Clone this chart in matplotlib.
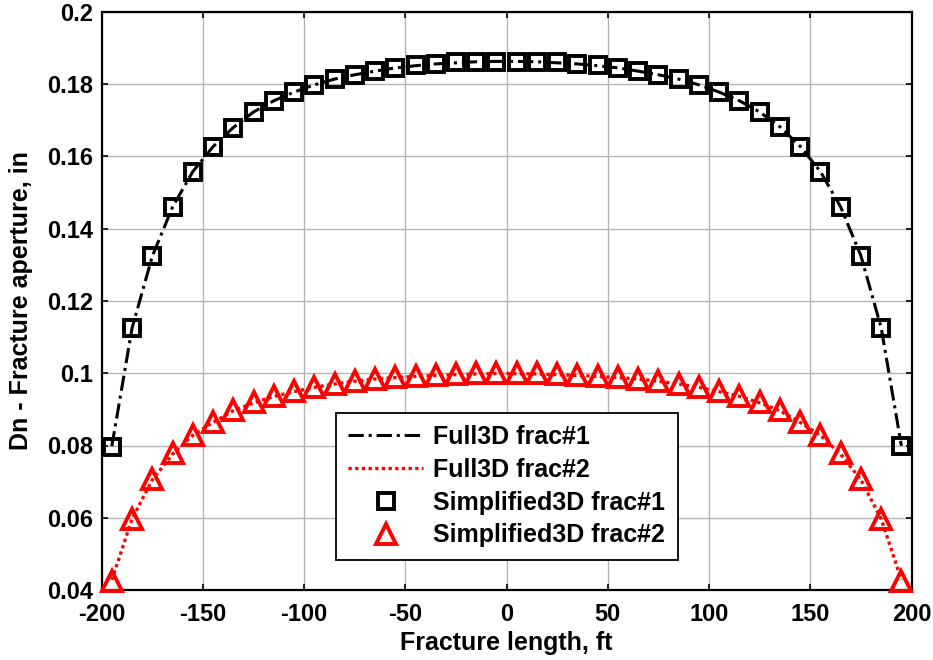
import numpy as np
import matplotlib.pyplot as plt
import matplotlib as mpl

mpl.rcParams['font.family'] = ['Liberation Sans', 'DejaVu Sans']
mpl.rcParams['font.weight'] = 'bold'
mpl.rcParams['axes.unicode_minus'] = False

# positions along the fracture, ft
x_ft = [-195, -185, -175, -165, -155, -145, -135, -125, -115, -105,
        -95, -85, -75, -65, -55, -45, -35, -25, -15, -5,
        5, 15, 25, 35, 45, 55, 65, 75, 85, 95,
        105, 115, 125, 135, 145, 155, 165, 175, 185, 195]

# aperture, in
full3d_f1 = [0.0798, 0.1125, 0.1324, 0.1460, 0.1558, 0.1627, 0.1680, 0.1723, 0.1754, 0.1778,
             0.1798, 0.1814, 0.1826, 0.1836, 0.1845, 0.1851, 0.1856, 0.1859, 0.1862, 0.1863,
             0.1863, 0.1862, 0.1859, 0.1856, 0.1851, 0.1845, 0.1836, 0.1826, 0.1814, 0.1798,
             0.1778, 0.1754, 0.1723, 0.1682, 0.1628, 0.1558, 0.1460, 0.1325, 0.1126, 0.0799]
full3d_f2 = [0.0428, 0.0597, 0.0705, 0.0776, 0.0828, 0.0864, 0.0896, 0.0918, 0.0936, 0.0949,
             0.0961, 0.0970, 0.0978, 0.0984, 0.0988, 0.0991, 0.0994, 0.0996, 0.0998, 0.0999,
             0.0999, 0.0998, 0.0996, 0.0994, 0.0991, 0.0988, 0.0984, 0.0978, 0.0970, 0.0961,
             0.0949, 0.0936, 0.0918, 0.0896, 0.0864, 0.0828, 0.0776, 0.0705, 0.0597, 0.0428]
simp3d_f1 = [0.0797, 0.1125, 0.1325, 0.1461, 0.1557, 0.1626, 0.1680, 0.1724, 0.1754, 0.1779,
             0.1799, 0.1815, 0.1826, 0.1837, 0.1845, 0.1852, 0.1856, 0.1860, 0.1862, 0.1862,
             0.1862, 0.1862, 0.1860, 0.1856, 0.1852, 0.1845, 0.1837, 0.1826, 0.1815, 0.1799,
             0.1779, 0.1754, 0.1724, 0.1681, 0.1627, 0.1557, 0.1461, 0.1325, 0.1125, 0.0798]
simp3d_f2 = [0.0425, 0.0597, 0.0706, 0.0778, 0.0830, 0.0865, 0.0897, 0.0919, 0.0937, 0.0950,
             0.0962, 0.0971, 0.0979, 0.0985, 0.0989, 0.0991, 0.0995, 0.0997, 0.1000, 0.1001,
             0.1001, 0.1000, 0.0997, 0.0995, 0.0991, 0.0989, 0.0985, 0.0979, 0.0971, 0.0962,
             0.0950, 0.0937, 0.0919, 0.0897, 0.0865, 0.0830, 0.0778, 0.0706, 0.0597, 0.0425]

fig = plt.figure(figsize=(9.33, 6.6), dpi=100)
ax = fig.add_axes([0.109, 0.106, 0.868, 0.876])

ax.plot(x_ft, full3d_f1, color='k', ls=(0, (5, 1.6, 1, 1.6)), lw=2.2,
        label='Full3D frac#1', zorder=3)
ax.plot(x_ft, full3d_f2, color='r', ls=(0, (1, 1)), lw=2.4,
        label='Full3D frac#2', zorder=3)
ax.plot(x_ft, simp3d_f1, ls='none', marker='s', ms=12, mfc='none', mec='k', mew=2.8,
        label='Simplified3D frac#1', zorder=4, clip_on=False)
ax.plot(x_ft, simp3d_f2, ls='none', marker='^', ms=15, mfc='none', mec='r', mew=2.8,
        label='Simplified3D frac#2', zorder=4, clip_on=False)

ax.set_xlim(-200, 200)
ax.set_ylim(0.04, 0.2)
ax.set_xticks(np.arange(-200, 201, 50))
ax.set_yticks(np.arange(0.04, 0.201, 0.02))
ax.set_yticklabels(['0.04', '0.06', '0.08', '0.1', '0.12', '0.14', '0.16', '0.18', '0.2'])
ax.grid(True, color='#b4b4b4', lw=1.0)
ax.set_axisbelow(True)
ax.tick_params(direction='in', top=True, right=True, length=4, width=1.2,
               labelsize=17)
ax.tick_params(axis='x', pad=9)
ax.tick_params(axis='y', pad=6)
for s in ax.spines.values():
    s.set_linewidth(1.6)

ax.set_xlabel('Fracture length, ft', fontsize=18, fontweight='bold', labelpad=4)
ax.set_ylabel('Dn - Fracture aperture, in', fontsize=18, fontweight='bold', labelpad=10)

leg = ax.legend(loc='lower left', bbox_to_anchor=(0.289, 0.052), fontsize=18,
                frameon=True, fancybox=False, edgecolor='k', framealpha=1,
                handlelength=3.0, handletextpad=0.4, borderpad=0.5,
                labelspacing=0.35, borderaxespad=0)
leg.get_frame().set_linewidth(1.3)

fig.savefig('out.png', dpi=100)
